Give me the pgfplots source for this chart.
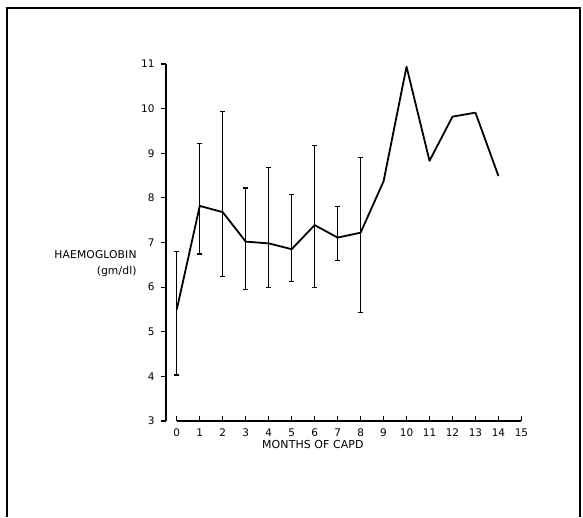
\documentclass[border=0pt]{standalone}
\usepackage{pgfplots}
\usepackage{pgfplotstable}
\pgfplotsset{compat=1.18}
\usepackage{fontspec}
\setmainfont{DejaVu Sans}
\newfontfamily\labfont[LetterSpace=1]{DejaVu Sans}

% mean haemoglobin by month
\pgfplotstableread{
x y
0 5.50
1 7.82
2 7.68
3 7.02
4 6.98
5 6.85
6 7.39
7 7.11
8 7.22
9 8.37
10 10.94
11 8.83
12 9.82
13 9.91
14 8.49
}\meanline

% error bars for the first months (upper / lower distance)
\pgfplotstableread{
x y ep em
0 5.50 1.30 1.47
1 7.82 1.40 1.08
2 7.68 2.25 1.44
3 7.02 1.20 1.08
4 6.98 1.70 0.98
5 6.85 1.23 0.73
6 7.39 1.79 1.39
7 7.11 0.69 0.52
8 7.22 1.68 1.79
}\errs

\begin{document}
\begin{tikzpicture}
\path (0,0) rectangle (583bp,517bp);
\draw[line width=1.8bp] (7bp,0) -- (7bp,509bp) -- (580bp,509bp) -- (580bp,0);
\begin{axis}[
    at={(166bp,96bp)}, anchor=south west,
    scale only axis,
    width=360bp, height=357bp,
    xmin=-0.47, xmax=15.2,
    ymin=3, ymax=11,
    axis lines*=left,
    axis line style={draw=none},
    xtick={0,...,15},
    ytick={3,...,11},
    tick align=outside,
    major tick length=5bp,
    tick style={black, line width=1.1bp},
    x tick style={yshift=4.5bp},
    /pgf/number format/assume math mode=true,
    ticklabel style={font=\fontsize{10.5}{12}\selectfont},
    x tick label style={yshift=1bp},
    y tick label style={xshift=-3bp},
    xlabel={\labfont MONTHS OF CAPD},
    xlabel style={font=\fontsize{11}{12}\selectfont, at={(axis description cs:0.408,-0.067)}, anchor=center},
    ylabel={\labfont HAEMOGLOBIN\\\labfont (gm/dl)},
    ylabel style={font=\fontsize{10.8}{16}\selectfont, rotate=-90, align=right, anchor=east, at={(axis description cs:-0.072,0.441)}},
    clip=false,
]
\draw[line width=1.3bp] (axis cs:-0.47,3) -- (axis cs:-0.47,11);
\draw[line width=1.3bp] (axis cs:0,3) -- (axis cs:15,3);
\addplot[draw=none, no markers,
    error bars/.cd, y dir=both, y explicit,
    error bar style={line width=1.2bp, black},
    error mark options={line width=1.2bp, black, mark size=2.5bp, rotate=90}]
    table[x=x, y=y, y error plus=ep, y error minus=em] {\errs};
\addplot[black, line width=1.8bp, no markers, line join=round] table[x=x, y=y] {\meanline};
\end{axis}
\end{tikzpicture}
\end{document}
